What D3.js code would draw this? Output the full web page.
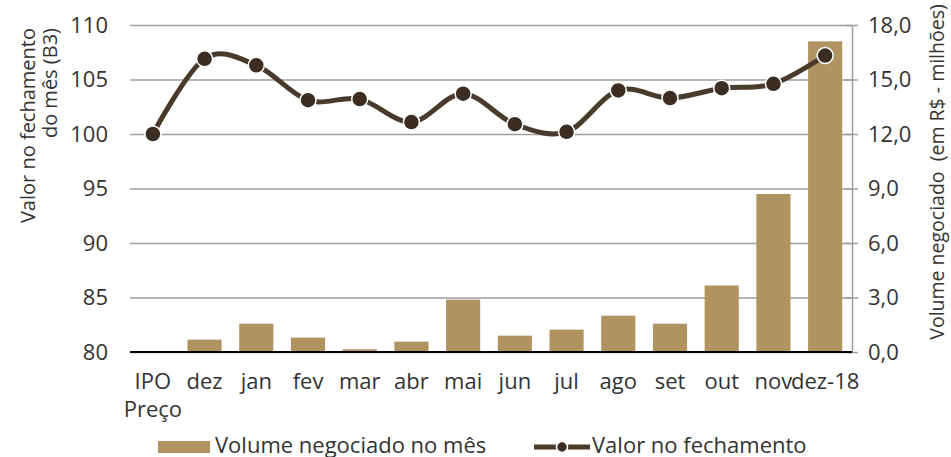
<!DOCTYPE html>
<html>
<head>
<meta charset="utf-8">
<script src="https://cdn.jsdelivr.net/npm/d3@7"></script>
<style>
  html, body { margin: 0; padding: 0; background: #fff; }
  svg { display: block; font-family: "Open Sans", sans-serif; }
</style>
</head>
<body>
<svg id="chart" width="951" height="457"></svg>
<script>
// ---- data ----
const categories = ["IPO Preço", "dez", "jan", "fev", "mar", "abr", "mai", "jun", "jul", "ago", "set", "out", "nov", "dez-18"];
const volume = [0, 0.68, 1.56, 0.79, 0.15, 0.57, 2.88, 0.90, 1.23, 2.00, 1.56, 3.66, 8.70, 17.1];
const valor = [100, 106.9, 106.3, 103.1, 103.2, 101.1, 103.7, 100.9, 100.2, 104.0, 103.3, 104.2, 104.6, 107.2];
const leftTicks = [80, 85, 90, 95, 100, 105, 110];
const rightTicks = [0, 3, 6, 9, 12, 15, 18];
const leftTitle = ["Valor no fechamento", "do mês (B3)"];
const rightTitle = "Volume negociado  (em R$ - milhões)";
const legendLabels = ["Volume negociado no mês", "Valor no fechamento"];

// ---- styles ----
const barColor = "#B09361";
const lineColor = "#4A3A2B";
const markerColor = "#3C2D22";
const textColor = "#333333";
const gridColor = "#9e9e9e";

const svg = d3.select("#chart");
const plotL = 130, plotR = 852, plotT = 25, plotB = 352;

const x = d3.scaleBand().domain(categories).range([127, 851]).paddingInner(0.34).paddingOuter(0.17);
const yL = d3.scaleLinear().domain([80, 110]).range([plotB, plotT]);
const yR = d3.scaleLinear().domain([0, 18]).range([plotB, plotT]);

// left axis with grid
const gL = svg.append("g").attr("transform", `translate(${plotL},0)`)
  .call(d3.axisLeft(yL).tickValues(leftTicks).tickSizeInner(-(plotR - plotL)).tickSizeOuter(0).tickPadding(22).tickFormat(d3.format("d")));
gL.select(".domain").remove();
gL.selectAll(".tick line").attr("stroke", gridColor).attr("stroke-width", 1.5);
gL.selectAll(".tick text").attr("fill", textColor).style("font-size", "22px").style("font-family", "Open Sans");

// right axis
const gR = svg.append("g").attr("transform", `translate(${plotR},0)`)
  .call(d3.axisRight(yR).tickValues(rightTicks).tickSizeInner(6).tickSizeOuter(0).tickPadding(10)
    .tickFormat(d => d3.format(".1f")(d).replace(".", ",")));
gR.select(".domain").attr("stroke", gridColor).attr("stroke-width", 1.5);
gR.selectAll(".tick line").attr("stroke", gridColor).attr("stroke-width", 1.5).attr("x1", -6);
gR.selectAll(".tick text").attr("fill", textColor).style("font-size", "22px").style("font-family", "Open Sans");

// bars
svg.append("g").selectAll("rect").data(categories).join("rect")
  .attr("x", d => x(d))
  .attr("width", x.bandwidth())
  .attr("y", (d, i) => yR(volume[i]))
  .attr("height", (d, i) => yR(0) - yR(volume[i]))
  .attr("fill", barColor);

// baseline
svg.append("line").attr("x1", plotL).attr("x2", plotR).attr("y1", plotB).attr("y2", plotB)
  .attr("stroke", "#000").attr("stroke-width", 2);

// x axis labels
const gX = svg.append("g").attr("transform", `translate(0,${plotB})`)
  .call(d3.axisBottom(x).tickSize(0).tickPadding(21));
gX.select(".domain").remove();
gX.selectAll(".tick text").attr("fill", textColor).style("font-size", "22px").style("font-family", "Open Sans")
  .each(function(d) {
    const parts = d.split(" ");
    if (parts.length > 1) {
      const t = d3.select(this);
      t.text(null);
      parts.forEach((p, k) => {
        t.append("tspan").attr("x", 0).attr("dy", k === 0 ? "0.71em" : "1.28em").text(p);
      });
      t.attr("dy", null);
    }
  });

// line
const cx = i => x(categories[i]) + x.bandwidth() / 2;
const line = d3.line().x((d, i) => cx(i)).y(d => yL(d)).curve(d3.curveCardinal.tension(0));
svg.append("path").datum(valor).attr("d", line)
  .attr("fill", "none").attr("stroke", lineColor).attr("stroke-width", 5);
svg.append("g").selectAll("circle").data(valor).join("circle")
  .attr("cx", (d, i) => cx(i)).attr("cy", d => yL(d)).attr("r", 8)
  .attr("fill", markerColor).attr("stroke", "#fff").attr("stroke-width", 1.5);

// left title
const lt = svg.append("text").attr("transform", "translate(35,28) rotate(-90)")
  .attr("text-anchor", "end").attr("fill", textColor).style("font-size", "20px");
leftTitle.forEach((s, k) => {
  lt.append("tspan").attr("x", 0).attr("dy", k === 0 ? 0 : "1.12em").text(s);
});

// right title
svg.append("text").attr("transform", "translate(944,172) rotate(-90)")
  .attr("text-anchor", "middle").attr("fill", textColor).style("font-size", "19.5px")
  .style("white-space", "pre").attr("xml:space", "preserve").text(rightTitle);

// legend
const lg = svg.append("g");
lg.append("rect").attr("x", 158).attr("y", 441).attr("width", 52).attr("height", 12).attr("fill", barColor);
lg.append("text").attr("x", 215).attr("y", 452.5).attr("fill", textColor).style("font-size", "22px").text(legendLabels[0]);
lg.append("line").attr("x1", 534).attr("x2", 590).attr("y1", 447).attr("y2", 447)
  .attr("stroke", lineColor).attr("stroke-width", 5);
lg.append("circle").attr("cx", 562).attr("cy", 447).attr("r", 5.5)
  .attr("fill", markerColor).attr("stroke", "#fff").attr("stroke-width", 1.5);
lg.append("text").attr("x", 592).attr("y", 452.5).attr("fill", textColor).style("font-size", "22px").text(legendLabels[1]);
</script>
</body>
</html>
